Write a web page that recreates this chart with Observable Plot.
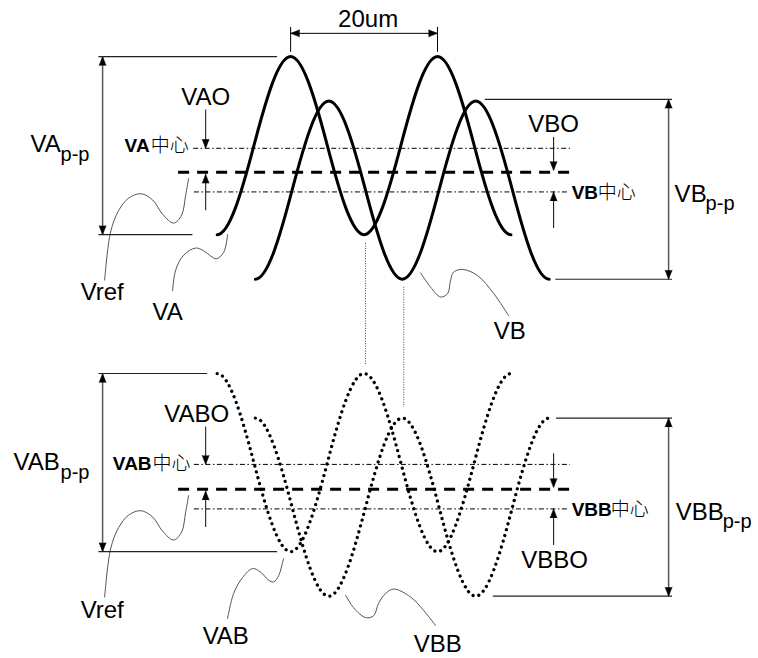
<!DOCTYPE html>
<html><head><meta charset="utf-8">
<script src="https://cdn.jsdelivr.net/npm/d3@7"></script>
<script src="https://cdn.jsdelivr.net/npm/@observablehq/plot@0.6"></script>
<style>
html,body{margin:0;padding:0;background:#fff;}
#chart{width:758px;height:658px;}
</style></head><body><div id="chart"></div>
<script>
// x: position in µm (0 = first VA peak); y: volts relative to each panel's Vref
const waveXA = [-10, -5, 0, 5, 10, 15, 20, 25, 30];
const waveXB = [-4.8, 0.2, 5.2, 10.2, 15.2, 20.2, 25.2, 30.2, 35.2];
const vaValues  = [-0.7, 0.3, 1.3, 0.3, -0.7, 0.3, 1.3, 0.3, -0.7];
const vbValues  = [-1.2, -0.2, 0.8, -0.2, -1.2, -0.2, 0.8, -0.2, -1.2];
const vabValues = [1.3, 0.3, -0.7, 0.3, 1.3, 0.3, -0.7, 0.3, 1.3];
const vbbValues = [0.8, -0.2, -1.2, -0.2, 0.8, -0.2, -1.2, -0.2, 0.8];

const panelVref = [0, -3.56]; // upper, lower panel Vref on the shared axis

// horizontal reference levels
const levelPanel = [0, 0, 0, 1, 1, 1];
const levelValues = [0.27, 0, -0.22, 0.28, 0, -0.22];
const levelKind = ["center", "vref", "center", "center", "vref", "center"];
const levelX1 = [-13.2, -15.25, -13.1, -13.1, -15.25, -13.1];
const levelX2 = [38.1, 38.5, 37.7, 38.1, 38.5, 37.7];

// peak-to-peak dimensions
const ppPanel = [0, 0, 1, 1];
const ppX = [-25.6, 51.46, -25.6, 51.46];
const ppTop = [1.3, 0.82, 1.3, 0.8];
const ppBottom = [-0.7, -1.2, -0.7, -1.2];
const ppTopX1 = [-26.1, 26.5, -26.1, 36.2];
const ppTopX2 = [-1.77, 52.0, -11.3, 52.0];
const ppBottomX1 = [-26.1, 36.1, -26.1, 27.6];
const ppBottomX2 = [-13.3, 52.0, -1.77, 52.0];

// offset arrows
const offsetPanel = [0, 0, 0, 0, 1, 1, 1, 1];
const offsetX = [-11.57, -11.57, 35.8, 35.8, -11.57, -11.57, 35.8, 35.8];
const offsetFrom = [0.70, -0.43, 0.39, -0.63, 0.70, -0.43, 0.40, -0.63];
const offsetTo = [0.27, -0.02, 0.02, -0.22, 0.28, -0.02, 0.02, -0.22];

// 20um pitch dimension
const pitchUm = [0, 20];
const pitchLevel = 1.561;
const pitchTickTop = 1.628, pitchTickBottom = 1.348;

// vertical dotted guides between panels
const guideX = [10.2, 15.4];
const guideTop = [-0.80, -1.29];   // upper panel
const guideBottom = [1.39, 0.92];  // lower panel

// leader squiggles
const leaderVrefX = [-25.32, -24.51, -23.42, -22.06, -20.42, -18.79, -17.43, -15.93, -14.84, -14.30, -13.89];
const leaderVrefV = [-1.21, -0.67, -0.43, -0.29, -0.24, -0.31, -0.47, -0.57, -0.48, -0.26, -0.07];
const leaderVAX = [-16.07, -15.66, -14.57, -12.93, -11.85, -10.89, -10.08, -9.12, -8.58];
const leaderVAV = [-1.33, -1.10, -0.93, -0.85, -0.88, -0.94, -0.97, -0.90, -0.70];
const leaderVBX = [17.70, 19.06, 20.42, 21.38, 21.78, 22.19, 23.42, 25.46, 27.64, 29.68];
const leaderVBV = [-1.13, -1.29, -1.40, -1.36, -1.21, -1.12, -1.09, -1.16, -1.36, -1.61];
const leaderVABX = [-8.58, -7.76, -6.54, -5.17, -4.08, -3.00, -2.31, -1.63, -1.09, -0.95];
const leaderVABV = [-1.45, -1.17, -0.99, -0.89, -0.93, -1.02, -1.04, -0.97, -0.82, -0.78];
const leaderVBBX = [7.49, 8.58, 10.21, 11.30, 11.98, 12.93, 14.02, 16.34, 18.11, 19.74];
const leaderVBBV = [-1.19, -1.33, -1.44, -1.42, -1.28, -1.17, -1.12, -1.21, -1.36, -1.53];

// text labels
const bigStartText = ["VA", "VB", "Vref", "VA", "VB", "VAB", "VBB", "Vref", "VAB", "VBB"];
const bigStartPanel = [0, 0, 0, 0, 0, 1, 1, 1, 1, 1];
const bigStartX = [-35.40, 52.28, -28.59, -18.79, 27.64, -37.72, 52.42, -28.59, -11.98, 16.75];
const bigStartV = [0.225, -0.337, -1.438, -1.662, -1.876, 0.213, -0.348, -1.449, -1.741, -1.83];

const bigMidText = ["20um", "VAO", "VBO", "VABO", "VBBO"];
const bigMidPanel = [0, 0, 0, 1, 1];
const bigMidX = [10.55, -11.57, 35.8, -12.80, 35.94];
const bigMidV = [1.628, 0.752, 0.449, 0.752, -0.887];

const subText = ["p-p", "p-p", "p-p", "p-p"];
const subPanel = [0, 0, 1, 1];
const subX = [-31.32, 56.50, -31.32, 58.82];
const subV = [0.124, -0.427, 0.112, -0.438];

const tagLeftText = ["VA", "VAB"];
const tagLeftPanel = [0, 1];
const tagLeftX = [-19.2, -18.93];
const tagLeftV = [0.225, 0.213];
const tagRightText = ["VB", "VBB"];
const tagRightPanel = [0, 1];
const tagRightX = [38.26, 38.26];
const tagRightV = [-0.303, -0.303];
const centerWord = "中心";
const centerPanel = [0, 1, 0, 1];
const centerX = [-19.06, -18.79, 41.80, 43.57];
const centerV = [0.225, 0.213, -0.303, -0.303];

// ---------- build tables ----------
const Y = (p, v) => v + panelVref[p];
const series = (name, p, xs, vs, dotted) => xs.map((x, i) => ({name, x, y: Y(p, vs[i]), dotted}));
const waveRows = [
  ...series("VA", 0, waveXA, vaValues, false),
  ...series("VB", 0, waveXB, vbValues, false),
  ...series("VAB", 1, waveXA, vabValues, true),
  ...series("VBB", 1, waveXB, vbbValues, true)
];
const leaderRows = [
  ...series("ref0", 0, leaderVrefX, leaderVrefV),
  ...series("ref1", 1, leaderVrefX, leaderVrefV),
  ...series("va", 0, leaderVAX, leaderVAV),
  ...series("vb", 0, leaderVBX, leaderVBV),
  ...series("vab", 1, leaderVABX, leaderVABV),
  ...series("vbb", 1, leaderVBBX, leaderVBBV)
];
const levels = levelValues.map((v, i) => ({y: Y(levelPanel[i], v), x1: levelX1[i], x2: levelX2[i], kind: levelKind[i]}));
const extLines = ppX.flatMap((x, i) => [
  {y: Y(ppPanel[i], ppTop[i]), x1: ppTopX1[i], x2: ppTopX2[i]},
  {y: Y(ppPanel[i], ppBottom[i]), x1: ppBottomX1[i], x2: ppBottomX2[i]}
]);
const ppShafts = ppX.map((x, i) => ({x, y1: Y(ppPanel[i], ppTop[i]), y2: Y(ppPanel[i], ppBottom[i])}));
const offShafts = offsetX.map((x, i) => ({x, y1: Y(offsetPanel[i], offsetFrom[i]), y2: Y(offsetPanel[i], offsetTo[i])}));
const heads = [
  ...ppShafts.flatMap(d => [{x: d.x, y: d.y1, rotate: 0}, {x: d.x, y: d.y2, rotate: 180}]),
  ...offShafts.map(d => ({x: d.x, y: d.y2, rotate: d.y2 > d.y1 ? 0 : 180})),
  {x: pitchUm[0], y: pitchLevel, rotate: -90},
  {x: pitchUm[1], y: pitchLevel, rotate: 90}
];
const guides = guideX.map((x, i) => ({x, y1: Y(0, guideTop[i]), y2: Y(1, guideBottom[i])}));
const ticks = pitchUm.map(x => ({x, y1: pitchTickTop, y2: pitchTickBottom}));
const texts = (t, P, X, V) => t.map((s, i) => ({s, x: X[i], y: Y(P[i], V[i])}));

// smooth curve through alternating extremes / mid-crossings (flat at extremes)
function waveCurve(context) {
  let xs = [], ys = [];
  return {
    areaStart() {}, areaEnd() {},
    lineStart() { xs = []; ys = []; },
    point(x, y) { xs.push(+x); ys.push(+y); },
    lineEnd() {
      const n = xs.length;
      if (!n) return;
      const m = xs.map((x, i) => {
        if (i === 0 || i === n - 1) return 0;
        const a = ys[i] - ys[i - 1], b = ys[i + 1] - ys[i];
        if (a * b <= 0) return 0;
        return (Math.PI / 2) * (ys[i + 1] - ys[i - 1]) / (xs[i + 1] - xs[i - 1]);
      });
      context.moveTo(xs[0], ys[0]);
      for (let i = 0; i < n - 1; i++) {
        const dx = xs[i + 1] - xs[i];
        context.bezierCurveTo(xs[i] + dx / 3, ys[i] + m[i] * dx / 3, xs[i + 1] - dx / 3, ys[i + 1] - m[i + 1] * dx / 3, xs[i + 1], ys[i + 1]);
      }
    }
  };
}

const latin = "'Liberation Sans', Arial, Helvetica, sans-serif";
const cjk = "'Noto Sans CJK SC', 'Liberation Sans', sans-serif";

const chart = Plot.plot({
  width: 758,
  height: 658,
  margin: 0,
  x: {domain: [-39.5, 63.7], axis: null},
  y: {domain: [-5.46, 1.93], axis: null},
  style: {background: "#fff"},
  marks: [
    Plot.ruleY(levels.filter(d => d.kind === "center"), {y: "y", x1: "x1", x2: "x2", stroke: "black", strokeWidth: 1, strokeDasharray: "5,2.5,1.5,2.5"}),
    Plot.ruleY(levels.filter(d => d.kind === "vref"), {y: "y", x1: "x1", x2: "x2", stroke: "black", strokeWidth: 3, strokeDasharray: "11,8"}),
    Plot.ruleX(guides, {x: "x", y1: "y1", y2: "y2", stroke: "#444", strokeWidth: 1, strokeDasharray: "1,1.5"}),
    Plot.line(waveRows.filter(d => !d.dotted), {x: "x", y: "y", z: "name", curve: waveCurve, stroke: "black", strokeWidth: 3}),
    Plot.line(waveRows.filter(d => d.dotted), {x: "x", y: "y", z: "name", curve: waveCurve, stroke: "black", strokeWidth: 3.3, strokeDasharray: "0.01,6", strokeLinecap: "round"}),
    Plot.line(leaderRows, {x: "x", y: "y", z: "name", curve: "catmull-rom", stroke: "#555", strokeWidth: 1}),
    Plot.ruleY(extLines, {y: "y", x1: "x1", x2: "x2", stroke: "#222", strokeWidth: 1.1}),
    Plot.ruleX(ppShafts, {x: "x", y1: "y1", y2: "y2", stroke: "#555", strokeWidth: 1.5}),
    Plot.ruleX(offShafts, {x: "x", y1: "y1", y2: "y2", stroke: "#222", strokeWidth: 1.1}),
    Plot.ruleY([pitchLevel], {x1: pitchUm[0], x2: pitchUm[1], stroke: "black", strokeWidth: 1}),
    Plot.ruleX(ticks, {x: "x", y1: "y1", y2: "y2", stroke: "black", strokeWidth: 1}),
    Plot.vector(heads, {x: "x", y: "y", rotate: "rotate", length: 9, r: 3.5, shape: "spike", anchor: "end", fill: "black", fillOpacity: 1, stroke: "black", strokeWidth: 0.5}),
    Plot.text(texts(bigStartText, bigStartPanel, bigStartX, bigStartV), {x: "x", y: "y", text: "s", textAnchor: "start", lineAnchor: "bottom", fontSize: 24, fontFamily: latin, fill: "black"}),
    Plot.text(texts(bigMidText, bigMidPanel, bigMidX, bigMidV), {x: "x", y: "y", text: "s", textAnchor: "middle", lineAnchor: "bottom", fontSize: 24, fontFamily: latin, fill: "black"}),
    Plot.text(texts(subText, subPanel, subX, subV), {x: "x", y: "y", text: "s", textAnchor: "start", lineAnchor: "bottom", fontSize: 20, fontFamily: latin, fill: "black"}),
    Plot.text(texts(tagLeftText, tagLeftPanel, tagLeftX, tagLeftV), {x: "x", y: "y", text: "s", textAnchor: "end", lineAnchor: "bottom", fontSize: 19, fontWeight: "bold", fontFamily: latin, fill: "black"}),
    Plot.text(texts(tagRightText, tagRightPanel, tagRightX, tagRightV), {x: "x", y: "y", text: "s", textAnchor: "start", lineAnchor: "bottom", fontSize: 19, fontWeight: "bold", fontFamily: latin, fill: "black"}),
    Plot.text(centerX.map((x, i) => ({s: centerWord, x, y: Y(centerPanel[i], centerV[i])})), {x: "x", y: "y", text: "s", textAnchor: "start", lineAnchor: "bottom", fontSize: 19, fontWeight: 300, fontFamily: cjk, fill: "black"})
  ]
});
document.getElementById("chart").appendChild(chart);
</script>
</body></html>
